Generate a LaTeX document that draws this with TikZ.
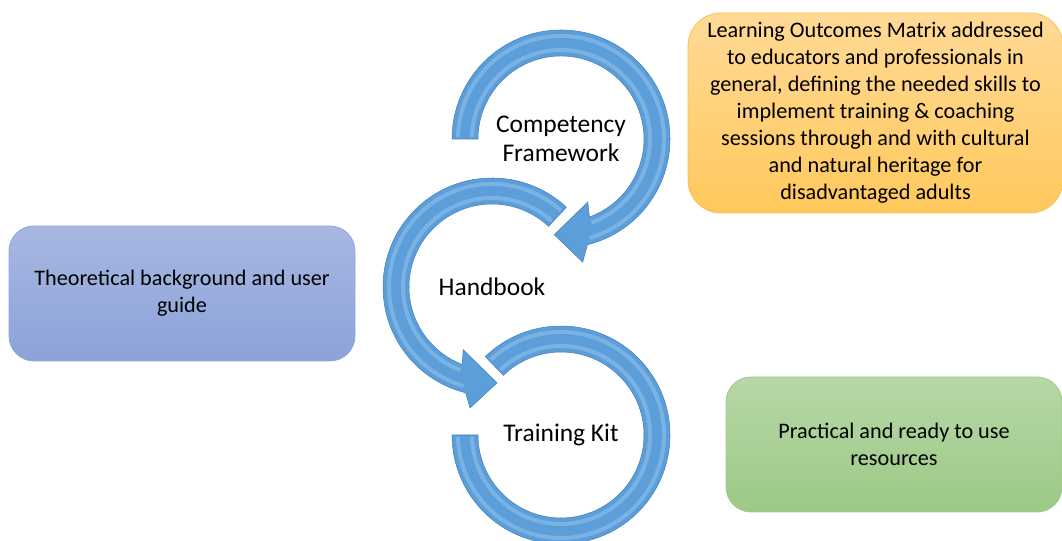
\documentclass[tikz,border=0pt]{standalone}
\usepackage{fontspec}
\setmainfont{Carlito}
\definecolor{ringblue}{RGB}{92,158,218}
\definecolor{ringedge}{RGB}{66,128,190}
\definecolor{ringlight}{RGB}{150,196,238}
\definecolor{orangetop}{RGB}{255,218,150}
\definecolor{orangebot}{RGB}{255,200,92}
\definecolor{orangeedge}{RGB}{246,194,90}
\definecolor{bluetop}{RGB}{168,183,225}
\definecolor{bluebot}{RGB}{139,163,217}
\definecolor{blueedge}{RGB}{143,168,220}
\definecolor{greentop}{RGB}{183,215,168}
\definecolor{greenbot}{RGB}{156,201,132}
\definecolor{greenedge}{RGB}{159,203,138}
\begin{document}
\begin{tikzpicture}[x=0.75pt,y=0.75pt,
    ring/.style={fill=ringblue,draw=ringedge,line width=0.4pt},
    gloss/.style={draw=ringlight,line width=3,opacity=0.55},
    ringtext/.style={font=\fontsize{19.1}{21.8}\selectfont,align=center},
    infobox/.style={rounded corners=18.75pt,line width=0.6pt,align=center,
        font=\fontsize{16.65}{20.25}\selectfont,minimum height=101.25pt}]
    \useasboundingbox (0,0) rectangle (1062,541);
    %% ring centres
    \coordinate (cf) at (561,402);
    \coordinate (hb) at (492,254);
    \coordinate (tk) at (561,106);
    %% competency framework ring
    \begin{scope}[shift={(cf)}]
        \path[ring] (180:109) arc[start angle=180,end angle=-76,radius=109] -- (-80:125) -- (-94:96) -- (-67:68.5) -- (-70:83) arc[start angle=-70,end angle=180,radius=83] -- cycle;
        \draw[gloss] (179:103) arc[start angle=179,end angle=-74,radius=103];
        \draw[gloss] (179:89) arc[start angle=179,end angle=-70,radius=89];
    \end{scope}
    %% handbook ring
    \begin{scope}[shift={(hb)}]
        \path[ring] (47:109) arc[start angle=47,end angle=256,radius=109] -- (259.7:123) -- (273:96) -- (245.3:69) -- (249:83) arc[start angle=249,end angle=47,radius=83] -- cycle;
        \draw[gloss] (48:103) arc[start angle=48,end angle=254,radius=103];
        \draw[gloss] (48:89) arc[start angle=48,end angle=249,radius=89];
    \end{scope}
    %% training kit ring
    \begin{scope}[shift={(tk)}]
        \path[ring] (134:109) arc[start angle=134,end angle=-180,radius=109] -- (-180:83) arc[start angle=-180,end angle=134,radius=83] -- cycle;
        \draw[gloss] (133:103) arc[start angle=133,end angle=-179,radius=103];
        \draw[gloss] (133:89) arc[start angle=133,end angle=-179,radius=89];
    \end{scope}
    %% ring labels
    \node[ringtext] (cflabel) at (cf) {Competency\\Framework};
    \node[ringtext] (hblabel) at (hb) {Handbook};
    \node[ringtext] (tklabel) at (tk) {Training Kit};
    %% side boxes
    \node[infobox,draw=orangeedge,top color=orangetop,bottom color=orangebot,
        rounded corners=24.75pt,minimum width=281.25pt,minimum height=150pt] (matrix) at (875.5,428)
        {Learning Outcomes Matrix addressed\\to educators and professionals in\\general, defining the needed skills to\\implement training \& coaching\\sessions through and with cultural\\and natural heritage for\\disadvantaged adults};
    \node[infobox,draw=blueedge,top color=bluetop,bottom color=bluebot,
        minimum width=259.5pt] (theory) at (182,247.5)
        {Theoretical background and user\\guide};
    \node[infobox,draw=greenedge,top color=greentop,bottom color=greenbot,
        minimum width=252pt] (practice) at (894,96.5)
        {Practical and ready to use\\resources};
\end{tikzpicture}
\end{document}
